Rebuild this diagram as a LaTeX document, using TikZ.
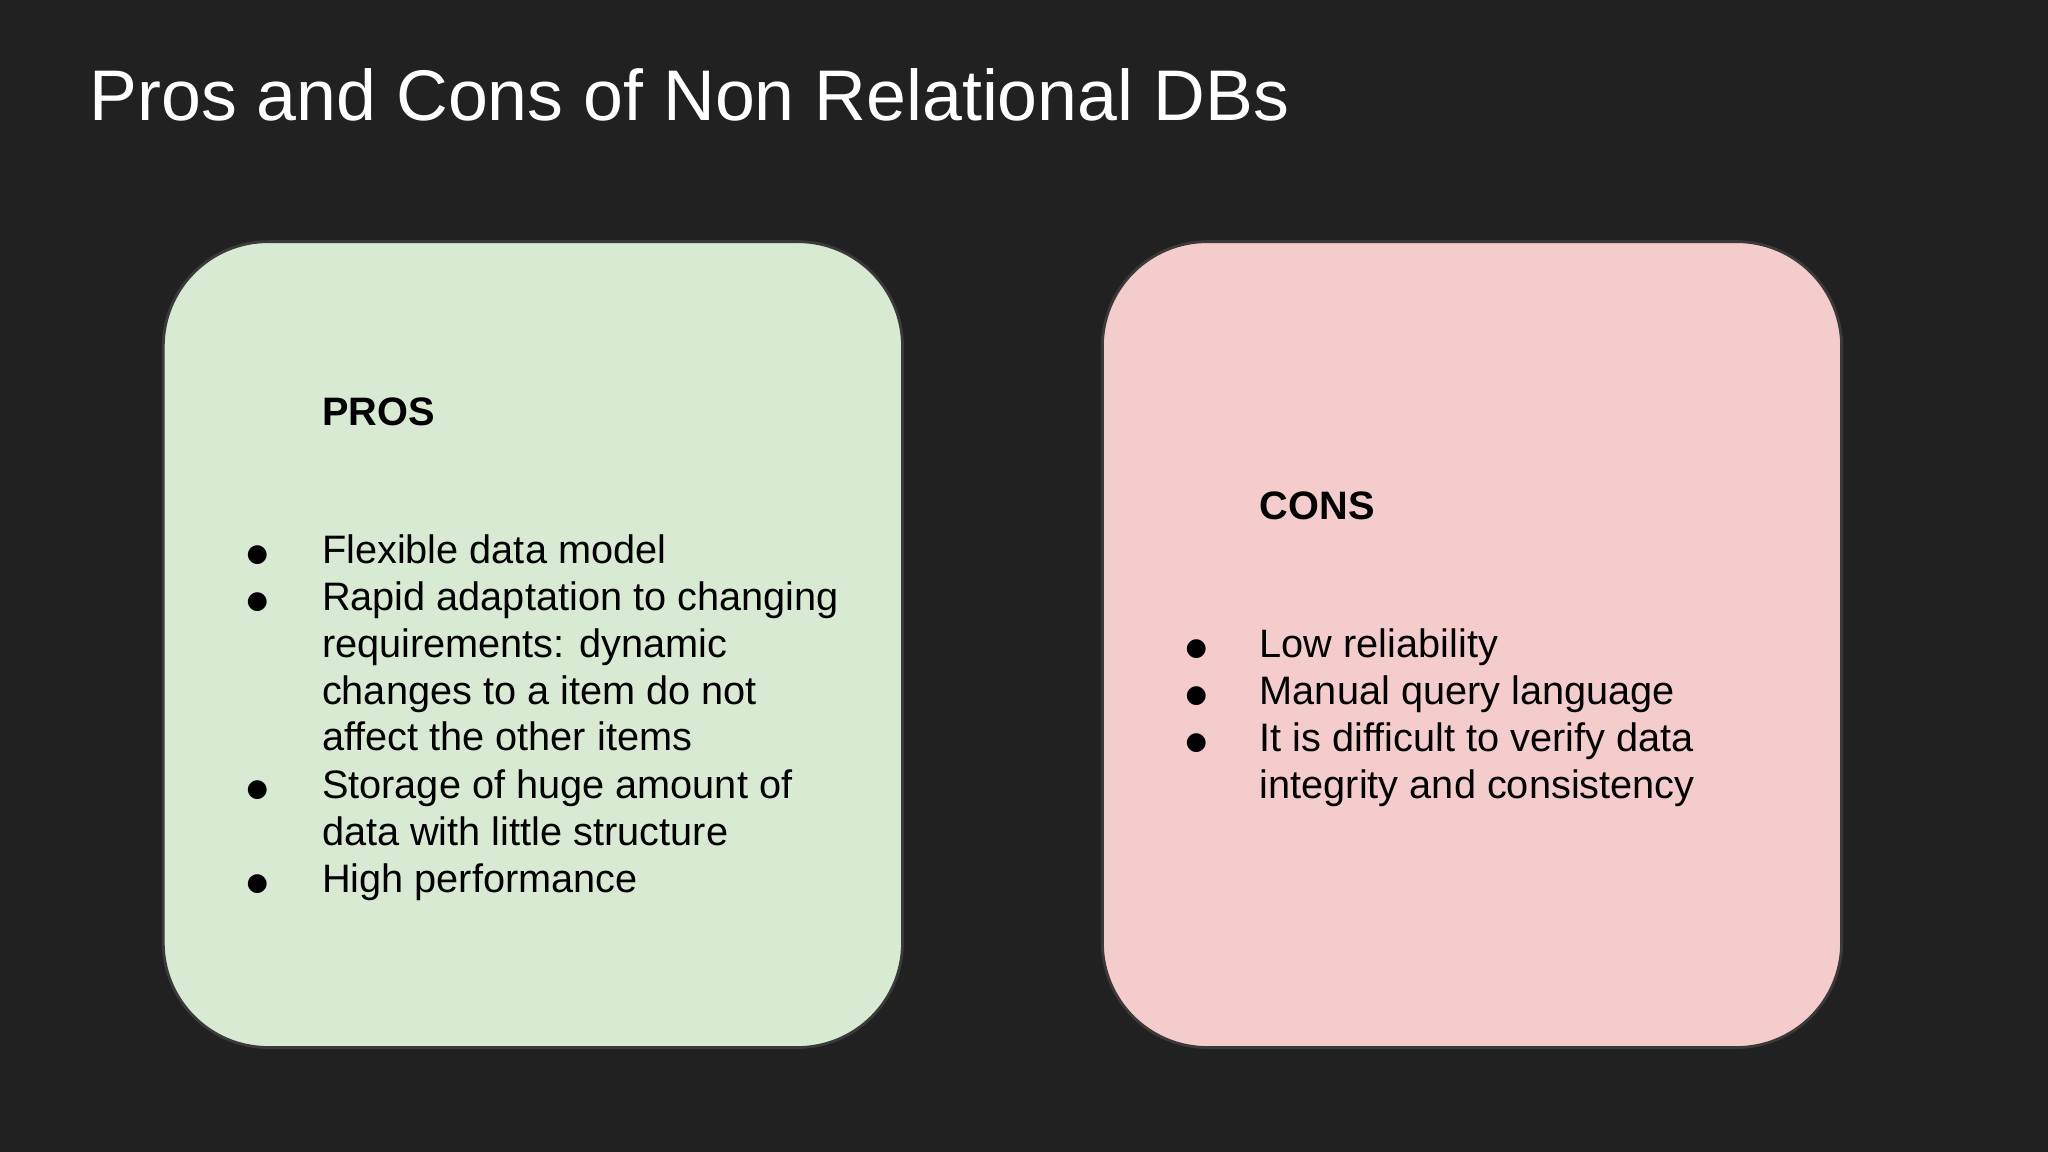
\documentclass[tikz,border=0pt]{standalone}
\usepackage{fontspec}
\setmainfont{Liberation Sans}
\newfontfamily\symfont{DejaVu Sans}
\definecolor{slidebg}{HTML}{212121}
\definecolor{prosfill}{HTML}{D9EAD3}
\definecolor{consfill}{HTML}{F4CCCC}
\definecolor{boxline}{HTML}{3A3A3A}
\tikzset{
  card/.style={draw=boxline, line width=0.8pt, rounded corners=1.05cm},
  item/.style={anchor=north west, inner sep=0pt, align=left,
    font=\fontsize{11.3}{13.3}\selectfont},
  dot/.style={inner sep=0pt, font=\symfont\fontsize{7}{7}\selectfont},
  head/.style={anchor=west, inner sep=0pt, font=\fontsize{11.3}{13.3}\selectfont\bfseries}
}
\begin{document}
\begin{tikzpicture}[x=0.01306cm,y=-0.01306cm]
\fill[slidebg] (0,0) rectangle (1568,882);
\useasboundingbox (0,0) rectangle (1568,882);
\node[anchor=base west, inner sep=0pt, text=white,
  font=\fontsize{20.4}{20.4}\selectfont] (title) at (68,92) {Pros and Cons of Non Relational DBs};
% boxes
\draw[card, fill=prosfill] (125,185) rectangle (691,802);
\draw[card, fill=consfill] (844,185) rectangle (1410,802);
% pros
\node[head] (proshead) at (246,315) {PROS};
\foreach \y/\txt in {423/{Flexible data model},
  459/{Rapid adaptation to changing\\requirements: dynamic\\changes to a item do not\\affect the other items},
  603/{Storage of huge amount of\\data with little structure},
  675/{High performance}}
{
  \node[dot] at (197,\y+2) {●};
  \node[item] at (246,\y-14) {\txt};
}
% cons
\node[head] (conshead) at (964,387) {CONS};
\foreach \y/\txt in {495/{Low reliability},
  531/{Manual query language},
  567/{It is difficult to verify data\\integrity and consistency}}
{
  \node[dot] at (916,\y+2) {●};
  \node[item] at (964,\y-14) {\txt};
}
\end{tikzpicture}
\end{document}
